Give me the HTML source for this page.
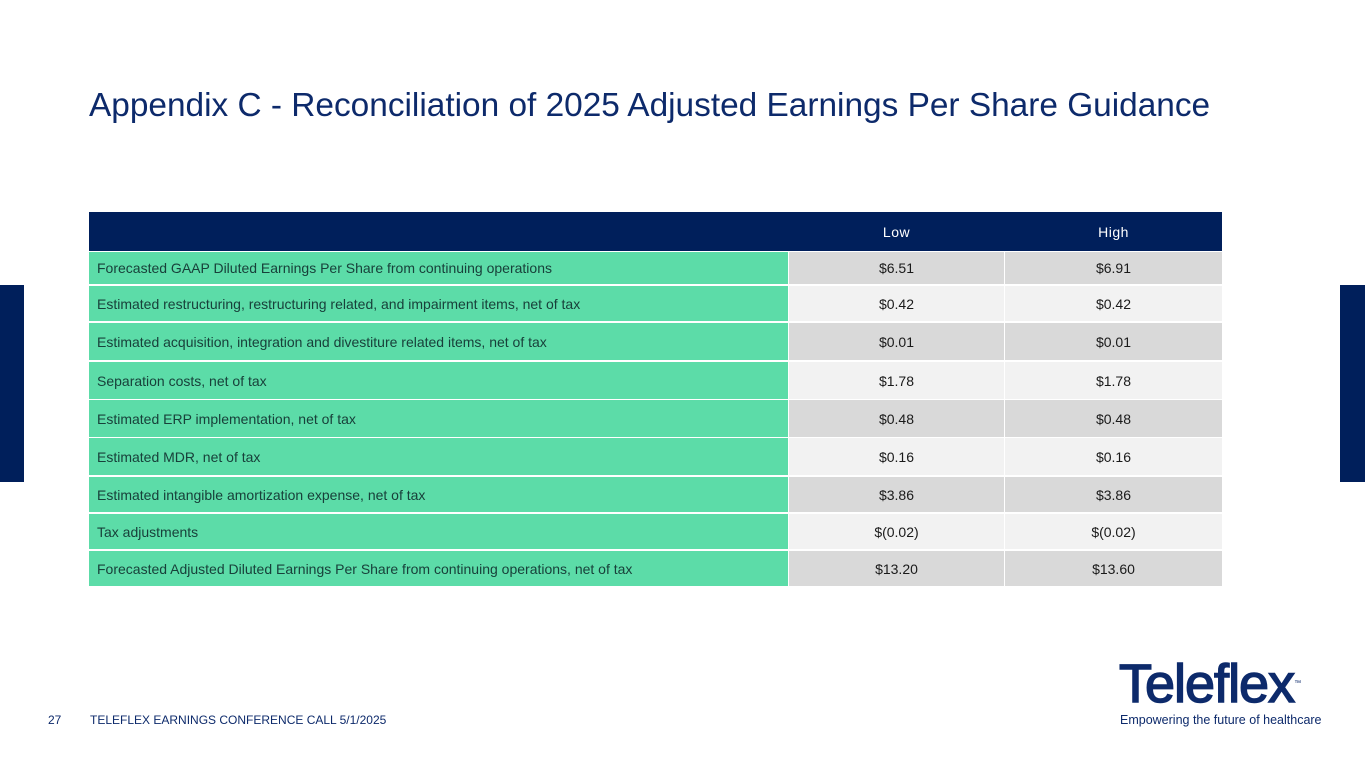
<!DOCTYPE html>
<html><head><meta charset="utf-8"><style>
body{margin:0;width:1365px;height:768px;position:relative;background:#fff;font-family:"Liberation Sans",sans-serif;overflow:hidden}
.a{position:absolute}
.title{left:89px;top:87px;font-size:33.4px;color:#0d2a6b;white-space:nowrap;font-family:"Liberation Sans",sans-serif}
.hdr{left:89px;top:212px;width:1133px;height:39px;background:#001f5b}
.hl{position:absolute;top:12px;color:#fff;font-size:14px;letter-spacing:.5px;text-align:center}
.cell{position:absolute;font-size:14px;color:#1a1a1a;display:flex;align-items:center}
.lab{background:#5cdca8;color:#18403a;padding-left:8px;box-sizing:border-box}
.val{justify-content:center}
</style></head><body>
<div class="a title">Appendix C - Reconciliation of 2025 Adjusted Earnings Per Share Guidance</div>
<div class="a" style="left:0;top:285px;width:24px;height:197px;background:#001f5b"></div>
<div class="a" style="left:1340px;top:285px;width:25px;height:197px;background:#001f5b"></div>
<div class="a hdr">
<div class="hl" style="left:700px;width:215px">Low</div>
<div class="hl" style="left:916px;width:217px">High</div>
</div>
<div id="rows"></div>
<div class="a" style="left:48px;top:713px;font-size:12px;color:#0d2a6b">27</div>
<div class="a" style="left:90px;top:713px;font-size:12px;color:#0d2a6b">TELEFLEX EARNINGS CONFERENCE CALL 5/1/2025</div>
<div class="a" style="left:1119px;top:657px;font-size:54px;font-weight:normal;color:#0d2a6b;letter-spacing:-1px;line-height:54px;-webkit-text-stroke:1.5px #0d2a6b">Teleflex<span style="font-size:7px;vertical-align:top;letter-spacing:0;-webkit-text-stroke:0">™</span></div>
<div class="a" style="left:1120px;top:713px;font-size:12.5px;color:#0d2a6b">Empowering the future of healthcare</div>
<script>
const labels=["Forecasted GAAP Diluted Earnings Per Share from continuing operations","Estimated restructuring, restructuring related, and impairment items, net of tax","Estimated acquisition, integration and divestiture related items, net of tax","Separation costs, net of tax","Estimated ERP implementation, net of tax","Estimated MDR, net of tax","Estimated intangible amortization expense, net of tax","Tax adjustments","Forecasted Adjusted Diluted Earnings Per Share from continuing operations, net of tax"];
const lows=["$6.51","$0.42","$0.01","$1.78","$0.48","$0.16","$3.86","$(0.02)","$13.20"];
const highs=["$6.91","$0.42","$0.01","$1.78","$0.48","$0.16","$3.86","$(0.02)","$13.60"];
const tops=[252,286,323,362,400,438,477,514,551];
const hts=[32,35,37,37,37,37,35,35,35];
const root=document.getElementById('rows');
labels.forEach((l,i)=>{
 const bg=i%2?'#f2f2f2':'#d9d9d9';
 const a=document.createElement('div');a.className='cell lab';
 
 
 a.style.cssText=`left:89px;top:${tops[i]}px;width:699px;height:${hts[i]}px`;a.textContent=l;root.appendChild(a);
 const b=document.createElement('div');b.className='cell val';
 
 
 b.style.cssText=`left:789px;top:${tops[i]}px;width:215px;height:${hts[i]}px;background:${bg}`;b.textContent=lows[i];root.appendChild(b);
 const c=document.createElement('div');c.className='cell val';
 
 
 c.style.cssText=`left:1005px;top:${tops[i]}px;width:217px;height:${hts[i]}px;background:${bg}`;c.textContent=highs[i];root.appendChild(c);
});
</script>
</body></html>
